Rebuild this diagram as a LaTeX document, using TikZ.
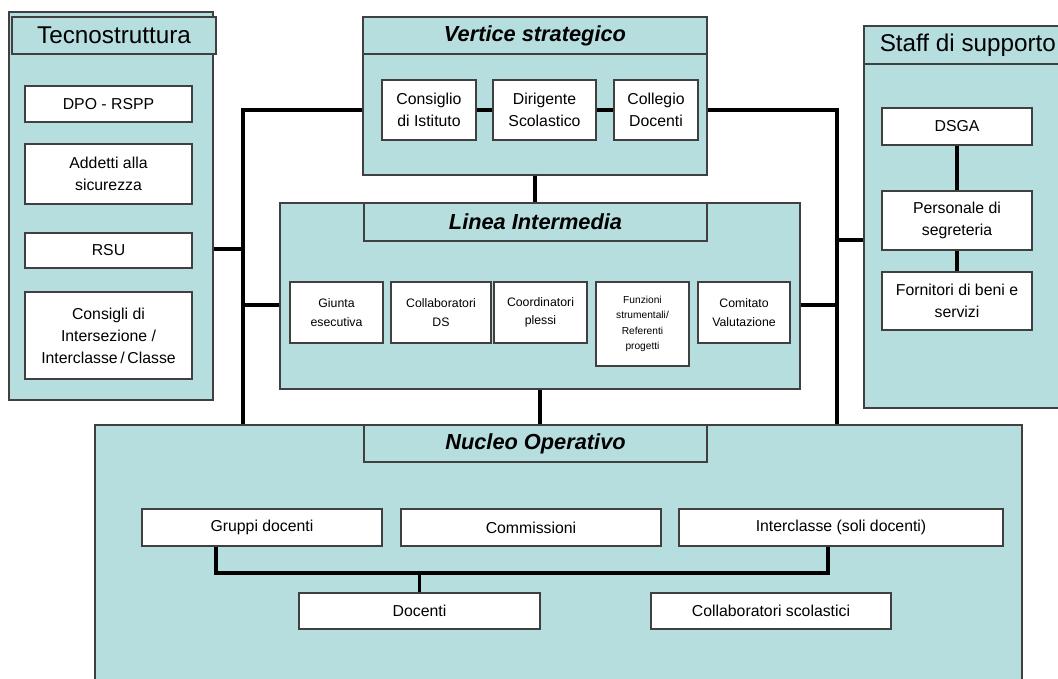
\documentclass[tikz,border=0pt]{standalone}
\usepackage{fontspec}
\setmainfont{Liberation Sans}
\definecolor{paleTeal}{RGB}{183,222,223}
\definecolor{boxLine}{RGB}{64,64,64}

\begin{document}
\begin{tikzpicture}[x=0.02cm, y=-0.02cm,
    areaBox/.style={draw=boxLine, line width=0.7pt, fill=paleTeal, inner sep=0pt},
    titleBar/.style={areaBox, minimum height=0.74cm, font=\fontsize{13.8}{15}\selectfont},
    titleBold/.style={titleBar, font=\fontsize{12.4}{15}\selectfont\bfseries\itshape},
    itemBox/.style={draw=boxLine, line width=0.7pt, fill=white, inner sep=0pt, align=center, font=\fontsize{9}{12.5}\selectfont},
    smallItem/.style={itemBox, font=\fontsize{7}{10.5}\selectfont},
    link/.style={line width=2.1pt, black}
  ]
  \useasboundingbox (0,0) rectangle (1058,679);
  \clip (0,0) rectangle (1058,679);

  % Tecnostruttura
  \node[areaBox, minimum width=4.08cm, minimum height=7.76cm] (tecno) at (111,206) {};
  \node[titleBar, minimum width=4.08cm] (tecnoT) at (114,35.5) {Tecnostruttura};
  \node[itemBox, minimum width=3.34cm, minimum height=0.72cm] (dpo) at (108.5,104) {DPO - RSPP};
  \node[itemBox, minimum width=3.34cm, minimum height=1.2cm] (addetti) at (108.5,174) {Addetti alla\\sicurezza};
  \node[itemBox, minimum width=3.34cm, minimum height=0.7cm] (rsu) at (108.5,250.5) {RSU};
  \node[itemBox, minimum width=3.34cm, minimum height=1.74cm] (consigli) at (108.5,335.5) {Consigli di\\Intersezione /\\Interclasse\,/\,Classe};

  % Vertice strategico
  \node[areaBox, minimum width=6.88cm, minimum height=3.16cm] (vertice) at (535,96) {};
  \node[titleBold, minimum width=6.88cm] (verticeT) at (535,35.5) {Vertice strategico};
  \node[itemBox, minimum width=1.88cm, minimum height=1.2cm] (consiglio) at (429,110) {Consiglio\\di Istituto};
  \node[itemBox, minimum width=2.06cm, minimum height=1.2cm] (dirigente) at (544.5,110) {Dirigente\\Scolastico};
  \node[itemBox, minimum width=1.68cm, minimum height=1.2cm] (collegio) at (656,110) {Collegio\\Docenti};

  % Linea intermedia
  \node[areaBox, minimum width=10.4cm, minimum height=3.72cm] (linea) at (540,296) {};
  \node[titleBold, minimum width=6.86cm, minimum height=0.76cm] (lineaT) at (535.5,222) {Linea Intermedia};
  \node[smallItem, minimum width=1.86cm, minimum height=1.22cm] (giunta) at (336.5,312.5) {Giunta\\esecutiva};
  \node[smallItem, minimum width=2cm, minimum height=1.22cm] (collabDS) at (441,312.5) {Collaboratori\\DS};
  \node[smallItem, minimum width=1.86cm, minimum height=1.22cm] (coord) at (540.5,312.5) {Coordinatori\\plessi};
  \node[smallItem, minimum width=1.86cm, minimum height=1.68cm, font=\fontsize{5.8}{8.8}\selectfont] (funzioni) at (642.5,324) {Funzioni\\strumentali/\\Referenti\\progetti};
  \node[smallItem, minimum width=1.84cm, minimum height=1.22cm] (comitato) at (744,312.5) {Comitato\\Valutazione};

  % Staff di supporto
  \node[areaBox, minimum width=3.96cm, minimum height=7.64cm] (staff) at (963,217) {};
  \node[titleBar, minimum width=3.96cm, minimum height=0.76cm] (staffT) at (963,45) {};
  \node[anchor=west, font=\fontsize{13.8}{15}\selectfont, inner sep=0pt] at ([xshift=0.32cm]staffT.west) {Staff di supporto};
  \node[itemBox, minimum width=3cm, minimum height=0.74cm] (dsga) at (957,126.5) {DSGA};
  \node[itemBox, minimum width=3cm, minimum height=1.18cm] (personale) at (957,220.5) {Personale di\\segreteria};
  \node[itemBox, minimum width=3cm, minimum height=1.16cm] (fornitori) at (957,301) {Fornitori di beni e\\servizi};

  % Nucleo operativo
  \node[areaBox, minimum width=18.54cm, minimum height=5.5cm] (nucleo) at (558.5,562.5) {};
  \node[titleBold, minimum width=6.86cm] (nucleoT) at (535.5,443.5) {Nucleo Operativo};
  \node[itemBox, minimum width=4.8cm, minimum height=0.74cm] (gruppi) at (262,527.5) {Gruppi docenti};
  \node[itemBox, minimum width=5.2cm, minimum height=0.74cm] (commissioni) at (531,527.5) {Commissioni};
  \node[itemBox, minimum width=6.48cm, minimum height=0.74cm] (interclasse) at (841,527.5) {Interclasse (soli docenti)};
  \node[itemBox, minimum width=4.82cm, minimum height=0.72cm] (docenti) at (419.5,611) {Docenti};
  \node[itemBox, minimum width=4.8cm, minimum height=0.72cm] (collabScol) at (771,611) {Collaboratori scolastici};

  % collegamenti
  \coordinate (ltop) at (243,110);
  \coordinate (lmid) at (243,249);
  \coordinate (llow) at (243,305);
  \coordinate (rtop) at (837,110);
  \coordinate (rmid) at (837,240);
  \coordinate (rlow) at (837,305);
  \draw[link] (vertice.west |- ltop) -- (ltop) -- (ltop |- nucleo.north);
  \draw[link] (vertice.east |- rtop) -- (rtop) -- (rtop |- nucleo.north);
  \draw[link] (tecno.east |- lmid) -- (lmid);
  \draw[link] (llow) -- (linea.west |- llow);
  \draw[link] (linea.east |- rlow) -- (rlow);
  \draw[link] (rmid) -- (staff.west |- rmid);
  \draw[link] (vertice.south) -- (vertice.south |- linea.north);
  \draw[link] (linea.south) -- (linea.south |- nucleo.north);
  \draw[link] (consiglio.east) -- (dirigente.west) (dirigente.east) -- (collegio.west);
  \draw[link] (dsga.south) -- (personale.north) (personale.south) -- (fornitori.north);

  \coordinate (njl) at (216,573);
  \coordinate (njr) at (828,573);
  \draw[link] (gruppi.south -| njl) -- (njl) -- (njr) -- (interclasse.south -| njr);
  \draw[link] (docenti.north |- njl) -- (docenti.north);
\end{tikzpicture}
\end{document}
